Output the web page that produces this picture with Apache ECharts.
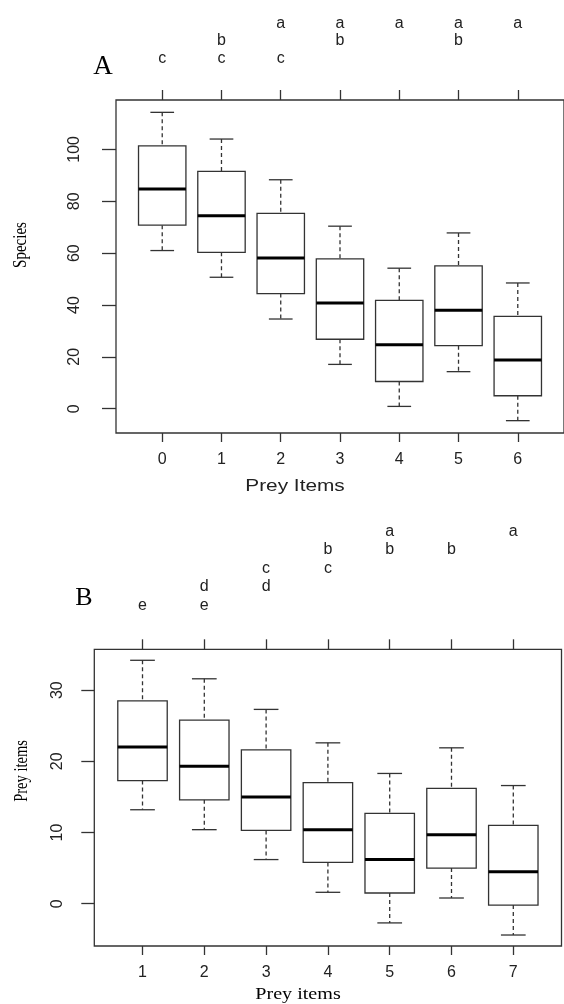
<!DOCTYPE html>
<html>
<head>
<meta charset="utf-8">
<script src="https://cdn.jsdelivr.net/npm/echarts@6/dist/echarts.min.js"></script>
<style>
html,body{margin:0;padding:0;background:#fff;}
#chart{width:564px;height:1004px;}
</style>
</head>
<body>
<div id="chart"></div>
<script>
// ---------- Panel A data ----------
const categoriesA = ['0', '1', '2', '3', '4', '5', '6'];
const whiskerLowA  = [61.0, 50.7, 34.6, 17.1, 0.9, 14.3, -4.6];
const q1A          = [70.8, 60.3, 44.4, 26.8, 10.5, 24.3, 5.0];
const medianA      = [84.7, 74.4, 58.1, 40.8, 24.7, 38.0, 18.8];
const q3A          = [101.4, 91.5, 75.3, 57.8, 41.8, 55.1, 35.6];
const whiskerHighA = [114.3, 104.0, 88.3, 70.4, 54.2, 67.8, 48.5];
const lettersA     = ['c', 'bc', 'ac', 'ab', 'a', 'ab', 'a'];
const letterRowsA  = ['a', 'b', 'c'];
const yTicksA      = [0, 20, 40, 60, 80, 100];

// ---------- Panel B data ----------
const categoriesB = ['1', '2', '3', '4', '5', '6', '7'];
const whiskerLowB  = [13.2, 10.4, 6.2, 1.6, -2.7, 0.8, -4.4];
const q1B          = [17.3, 14.6, 10.3, 5.8, 1.5, 5.0, -0.2];
const medianB      = [22.0, 19.3, 15.0, 10.4, 6.2, 9.7, 4.5];
const q3B          = [28.5, 25.8, 21.6, 17.0, 12.7, 16.2, 11.0];
const whiskerHighB = [34.2, 31.6, 27.3, 22.6, 18.3, 21.9, 16.6];
const lettersB     = ['e', 'de', 'cd', 'bc', 'ab', 'b', 'a'];
const letterRowsB  = ['a', 'b', 'c', 'd', 'e'];
const yTicksB      = [0, 10, 20, 30];

const SANS = "'Liberation Sans', Arial, sans-serif";
const SERIF = "'Liberation Serif', 'Times New Roman', serif";
const LINE = '#333';
const TEXT = '#222';

function rows(lo, q1, med, q3, hi) {
  return lo.map((v, i) => [i, lo[i], q1[i], med[i], q3[i], hi[i]]);
}
function yRange(lo, hi) {
  const a = Math.min(...lo), b = Math.max(...hi), p = 0.04 * (b - a);
  return [a - p, b + p];
}
function xRange(n) { const p = 0.04 * n; return [-0.5 - p, n - 0.5 + p]; }
function letterText(letters, rowsArr) {
  return rowsArr.map(r => letters.indexOf(r) >= 0 ? r : ' ').join('\n');
}

function renderBox(params, api) {
  const x = api.value(0);
  const pLo = api.coord([x, api.value(1)]);
  const pQ1 = api.coord([x, api.value(2)]);
  const pMed = api.coord([x, api.value(3)]);
  const pQ3 = api.coord([x, api.value(4)]);
  const pHi = api.coord([x, api.value(5)]);
  const bw = api.size([0.8, 0])[0];
  const cw = api.size([0.4, 0])[0];
  const cx = pMed[0];
  const dashed = { stroke: LINE, lineWidth: 1.3, lineDash: [4, 3] };
  const solid = { stroke: LINE, lineWidth: 1.3 };
  return {
    type: 'group',
    children: [
      { type: 'line', shape: { x1: cx, y1: pHi[1], x2: cx, y2: pQ3[1] }, style: dashed },
      { type: 'line', shape: { x1: cx, y1: pQ1[1], x2: cx, y2: pLo[1] }, style: dashed },
      { type: 'line', shape: { x1: cx - cw / 2, y1: pHi[1], x2: cx + cw / 2, y2: pHi[1] }, style: solid },
      { type: 'line', shape: { x1: cx - cw / 2, y1: pLo[1], x2: cx + cw / 2, y2: pLo[1] }, style: solid },
      { type: 'rect', shape: { x: cx - bw / 2, y: pQ3[1], width: bw, height: pQ1[1] - pQ3[1] },
        style: { fill: '#fff', stroke: LINE, lineWidth: 1.3 } },
      { type: 'line', shape: { x1: cx - bw / 2, y1: pMed[1], x2: cx + bw / 2, y2: pMed[1] },
        style: { stroke: '#000', lineWidth: 3 } }
    ]
  };
}

const [xAmin, xAmax] = xRange(categoriesA.length);
const [xBmin, xBmax] = xRange(categoriesB.length);
const [yAmin, yAmax] = yRange(whiskerLowA, whiskerHighA);
const [yBmin, yBmax] = yRange(whiskerLowB, whiskerHighB);
const idxA = categoriesA.map((c, i) => i);
const idxB = categoriesB.map((c, i) => i);

function bottomAxis(grid, min, max, idx, cats) {
  return {
    type: 'value', gridIndex: grid, position: 'bottom', min, max,
    axisLine: { show: false, onZero: false },
    splitLine: { show: false },
    axisTick: { show: true, length: 9, customValues: idx, lineStyle: { color: LINE, width: 1.3 } },
    axisLabel: { customValues: idx, formatter: v => cats[Math.round(v)], margin: 19,
      fontFamily: SANS, fontSize: 16, color: TEXT }
  };
}
function topAxis(grid, min, max, idx, letters, rowsArr, lh, margin) {
  return {
    type: 'value', gridIndex: grid, position: 'top', min, max,
    axisLine: { show: false, onZero: false },
    splitLine: { show: false },
    axisTick: { show: true, length: 10, customValues: idx, lineStyle: { color: LINE, width: 1.3 } },
    axisLabel: { customValues: idx, formatter: v => letterText(letters[Math.round(v)], rowsArr),
      margin, lineHeight: lh, fontFamily: SANS, fontSize: 16, color: TEXT }
  };
}
function leftAxis(grid, min, max, ticks, tickLen, margin) {
  return {
    type: 'value', gridIndex: grid, min, max,
    axisLine: { show: false, onZero: false },
    splitLine: { show: false },
    axisTick: { show: true, length: tickLen, customValues: ticks, lineStyle: { color: LINE, width: 1.3 } },
    axisLabel: { customValues: ticks, rotate: 90, margin, fontFamily: SANS, fontSize: 16, color: TEXT }
  };
}

const chart = echarts.init(document.getElementById('chart'), null, { renderer: 'canvas' });
chart.setOption({
  backgroundColor: '#fff',
  animation: false,
  grid: [
    { left: 116, top: 100, width: 449.8, height: 333, show: true, borderColor: LINE, borderWidth: 1.3, backgroundColor: 'transparent' },
    { left: 94.3, top: 649.3, width: 467.2, height: 296.7, show: true, borderColor: LINE, borderWidth: 1.3, backgroundColor: 'transparent' }
  ],
  xAxis: [
    bottomAxis(0, xAmin, xAmax, idxA, categoriesA),
    topAxis(0, xAmin, xAmax, idxA, lettersA, letterRowsA, 17.5, 33),
    bottomAxis(1, xBmin, xBmax, idxB, categoriesB),
    topAxis(1, xBmin, xBmax, idxB, lettersB, letterRowsB, 18.4, 35)
  ],
  yAxis: [
    leftAxis(0, yAmin, yAmax, yTicksA, 14, 33),
    leftAxis(1, yBmin, yBmax, yTicksB, 13, 29)
  ],
  series: [
    { type: 'custom', name: 'A', xAxisIndex: 0, yAxisIndex: 0, renderItem: renderBox,
      encode: { x: 0, y: [1, 2, 3, 4, 5] }, data: rows(whiskerLowA, q1A, medianA, q3A, whiskerHighA) },
    { type: 'custom', name: 'B', xAxisIndex: 2, yAxisIndex: 1, renderItem: renderBox,
      encode: { x: 0, y: [1, 2, 3, 4, 5] }, data: rows(whiskerLowB, q1B, medianB, q3B, whiskerHighB) }
  ],
  graphic: [
    { type: 'text', x: 103, y: 67, style: { text: 'A', font: '27px ' + SERIF, fill: '#000', align: 'center', verticalAlign: 'middle' } },
    { type: 'text', x: 21, y: 245, rotation: Math.PI / 2, scaleY: 1.25,
      style: { text: 'Species', font: '15px ' + SERIF, fill: '#000', align: 'center', verticalAlign: 'middle' } },
    { type: 'text', x: 295, y: 487, scaleX: 1.3,
      style: { text: 'Prey Items', font: '16px ' + SANS, fill: TEXT, align: 'center', verticalAlign: 'middle' } },
    { type: 'text', x: 84, y: 598, style: { text: 'B', font: '26px ' + SERIF, fill: '#000', align: 'center', verticalAlign: 'middle' } },
    { type: 'text', x: 22, y: 771, rotation: Math.PI / 2, scaleY: 1.25,
      style: { text: 'Prey items', font: '14.5px ' + SERIF, fill: '#000', align: 'center', verticalAlign: 'middle' } },
    { type: 'text', x: 298, y: 995, scaleX: 1.22,
      style: { text: 'Prey items', font: '16.5px ' + SERIF, fill: '#000', align: 'center', verticalAlign: 'middle' } }
  ]
});
</script>
</body>
</html>
